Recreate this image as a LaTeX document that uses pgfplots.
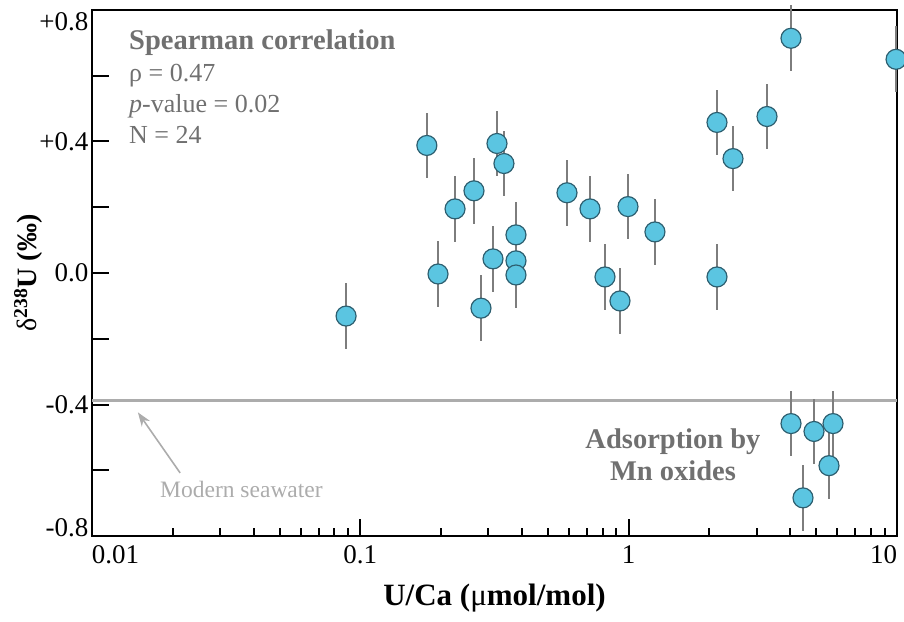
\documentclass[border=0pt]{standalone}
\usepackage{fontspec}
\setmainfont{Liberation Serif}
\usepackage{pgfplots}
\pgfplotsset{compat=1.18}
\usetikzlibrary{arrows.meta}
\definecolor{mfill}{RGB}{91,197,225}
\definecolor{mdraw}{RGB}{45,95,112}
\definecolor{ebar}{RGB}{125,125,125}
\definecolor{txtgray}{RGB}{112,112,112}
\definecolor{lightgray}{RGB}{172,172,172}
\begin{document}
\begin{tikzpicture}
\begin{axis}[
  name=ax,
  scale only axis,
  width=805pt, height=526pt,
  xmode=log,
  xmin=0.01, xmax=10,
  ymin=-0.8, ymax=0.8,
  clip=false,
  axis line style={line width=2.5pt},
  tick style={line width=2pt, black},
  tick align=inside,
  major tick length=17pt,
  minor tick length=8pt,
  xtick={0.01,0.1,1,10},
  xticklabels={\rlap{0.01},0.1,1,\llap{10}},
  ytick={-0.8,-0.6,-0.4,-0.2,0,0.2,0.4,0.6,0.8},
  yticklabels={\smash{-0.8},,-0.4,,0.0,,+0.4,,\smash{\raisebox{-21pt}{+0.8}}},
  xtick pos=bottom, ytick pos=left,
  ticklabel style={font=\fontsize{27}{32}\selectfont},
  xticklabel style={yshift=-6pt},
  /pgf/number format/assume math mode=true,
  xlabel={\textbf{U/Ca (}μ\textbf{mol/mol)}},
  ylabel={δ\textbf{\textsuperscript{238}U (‰)}},
  xlabel style={at={(axis description cs:0.5,-0.1312)}, anchor=base, font=\fontsize{31}{35}\selectfont},
  ylabel style={at={(axis description cs:-0.0795,0.5)}, anchor=center, font=\fontsize{28}{32}\selectfont},
]
\addplot[lightgray, line width=2.2pt, forget plot] coordinates {(0.01,-0.388) (10,-0.388)};
\addplot[
  only marks,
  mark=*,
  mark size=10pt,
  mark options={fill=mfill, draw=mdraw, line width=1.2pt},
  error bars/.cd, y dir=both, y explicit,
  error mark=none,
  error bar style={line width=2pt, ebar},
] table[x=x, y=y, y error=e] {
x y e
0.0885 -0.131 0.1
0.177 0.388 0.1
0.1948 -0.003 0.1
0.2254 0.195 0.1
0.2652 0.250 0.1
0.2816 -0.107 0.1
0.3122 0.043 0.1
0.3231 0.394 0.1
0.3430 0.333 0.1
0.3803 0.116 0.1
0.3803 0.037 0.1
0.3803 -0.006 0.1
0.5891 0.244 0.1
0.7177 0.195 0.1
0.8162 -0.012 0.1
0.9283 -0.085 0.1
0.9943 0.202 0.1
1.253 0.125 0.1
2.134 0.458 0.1
2.134 -0.012 0.1
2.448 0.348 0.1
3.278 0.476 0.1
4.027 0.714 0.1
9.92 0.65 0.1
4.027 -0.458 0.1
4.906 -0.482 0.1
5.775 -0.458 0.1
5.580 -0.586 0.1
4.464 -0.684 0.1
};
\draw[lightgray, line width=1.6pt, -{Stealth[length=14pt,width=10pt]}] (axis cs:0.0213,-0.608) -- (axis cs:0.01483,-0.424);
\node[anchor=base west, text=lightgray, font=\fontsize{23.5}{28}\selectfont, inner sep=0pt] at (axis cs:0.01793,-0.684) {Modern seawater};
\node[anchor=base west, text=txtgray, font=\fontsize{28.5}{32}\selectfont\bfseries, inner sep=0pt] at (axis cs:0.01374,0.681) {Spearman correlation};
\node[anchor=base west, text=txtgray, font=\fontsize{26}{30}\selectfont, inner sep=0pt] at (axis cs:0.01374,0.583) {ρ = 0.47};
\node[anchor=base west, text=txtgray, font=\fontsize{26}{30}\selectfont, inner sep=0pt] at (axis cs:0.01374,0.489) {\textit{p}-value = 0.02};
\node[anchor=base west, text=txtgray, font=\fontsize{26}{30}\selectfont, inner sep=0pt] at (axis cs:0.01374,0.394) {N = 24};
\node[anchor=base, text=txtgray, font=\fontsize{28.5}{32}\selectfont\bfseries, inner sep=0pt] at (axis cs:1.463,-0.534) {Adsorption by};
\node[anchor=base, text=txtgray, font=\fontsize{28.5}{32}\selectfont\bfseries, inner sep=0pt] at (axis cs:1.463,-0.632) {Mn oxides};
\coordinate (bl) at (rel axis cs:0,0);
\coordinate (tr) at (rel axis cs:1,1);
\end{axis}
\pgfresetboundingbox
\path[use as bounding box] ([shift={(-92pt,-85pt)}]bl) rectangle ([shift={(7pt,10pt)}]tr);
\end{tikzpicture}
\end{document}
